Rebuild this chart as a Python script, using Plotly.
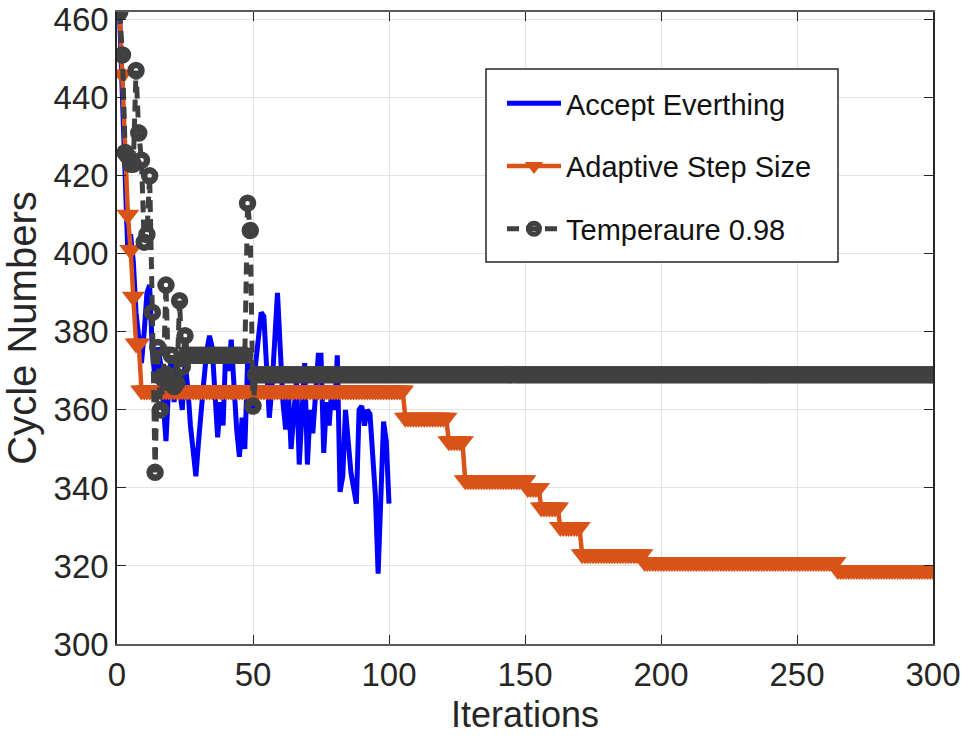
import plotly.graph_objects as go

# Accept Everthing: cycle numbers for iterations 1..100
accept_iter = list(range(1, 101))
accept_cycles = [
    460, 440, 422, 400, 405, 398, 385, 378, 372, 380,
    390, 392, 375, 368, 376, 372, 360, 352, 366, 374,
    362, 370, 365, 360, 372, 366, 356, 350, 343, 352,
    362, 368, 375, 379, 376, 366, 353, 362, 356, 376,
    370, 378, 364, 355, 348, 358, 350, 372, 366, 360,
    372, 380, 385, 384, 372, 358, 366, 380, 390, 376,
    362, 355, 365, 350, 360, 368, 346, 360, 372, 346,
    360, 354, 366, 374, 374, 349, 362, 356, 366, 360,
    374, 339, 343, 360, 352, 344, 340, 336, 360, 361,
    356, 360, 359, 348, 338, 318, 335, 357, 352, 336,
]

# Adaptive Step Size: start values, then plateaus (value, first iteration, last iteration)
adaptive_start = [462, 446, 425, 410, 401, 389, 377, 377]
adaptive_plateaus = [
    (365, 9, 105),
    (358, 106, 121),
    (352, 122, 127),
    (342, 128, 150),
    (340, 151, 155),
    (335, 156, 162),
    (330, 163, 170),
    (323, 171, 193),
    (321, 194, 264),
    (319, 265, 300),
]

# Temperaure 0.98: early values, then plateaus
temp_start = [462, 451, 426, 425, 423, 423, 447, 431, 424, 403,
              405, 420, 385, 344, 376, 360, 368, 392, 367, 374,
              366, 367, 388, 371, 379]
temp_plateau_a = (374, 26, 47)
temp_jump = [413, 406, 361]
temp_plateau_b = (369, 51, 300)

x_ticks = [0, 50, 100, 150, 200, 250, 300]
y_ticks = [300, 320, 340, 360, 380, 400, 420, 440, 460]


def expand(start_vals, plateaus, first_iter=1):
    xs = list(range(first_iter, first_iter + len(start_vals)))
    ys = list(start_vals)
    for val, a, b in plateaus:
        for i in range(a, b + 1):
            xs.append(i)
            ys.append(val)
    return xs, ys


adaptive_x, adaptive_y = expand(adaptive_start, adaptive_plateaus)

temp_x, temp_y = expand(temp_start, [temp_plateau_a])
temp_x += [48, 49, 50]
temp_y += temp_jump
for i in range(temp_plateau_b[1], temp_plateau_b[2] + 1):
    temp_x.append(i)
    temp_y.append(temp_plateau_b[0])

fig = go.Figure()

fig.add_trace(go.Scatter(
    x=accept_iter, y=accept_cycles, mode="lines",
    name="Accept Everthing", legendgroup="a",
    line=dict(color="#0000FF", width=5),
))
fig.add_trace(go.Scatter(
    x=adaptive_x, y=adaptive_y, mode="lines+markers",
    name="Adaptive Step Size", legendgroup="b",
    line=dict(color="#D95319", width=4.5),
    marker=dict(symbol="triangle-down", size=20, color="#D95319",
                line=dict(width=0)),
))
fig.add_trace(go.Scatter(
    x=temp_x, y=temp_y, mode="lines+markers",
    name="Temperaure 0.98", legendgroup="c",
    line=dict(color="#404040", width=5, dash="12px,7px"),
    marker=dict(symbol="circle-open", size=11, color="#404040",
                line=dict(width=6.5, color="#404040")),
))

L, R, T, B = 117, 35, 12, 101
W, H = 968, 745
pw, ph = W - L - R, H - T - B


def px_to_paper(px, py):
    return (px - L) / pw, (H - B - py) / ph


# legend frame
bx0, by0 = px_to_paper(486, 262)
bx1, by1 = px_to_paper(838, 69)
fig.add_shape(type="rect", xref="paper", yref="paper",
              x0=bx0, y0=by0, x1=bx1, y1=by1,
              line=dict(color="#262626", width=1.5), fillcolor="white",
              layer="above")

lx, ly = px_to_paper(502, 78)

tick_font = dict(family="Liberation Sans, Arial", size=33, color="#262626")

fig.update_layout(
    width=W, height=H,
    margin=dict(l=L, r=R, t=T, b=B, autoexpand=False),
    paper_bgcolor="white", plot_bgcolor="white",
    showlegend=True,
    legend=dict(
        x=lx, y=ly, xanchor="left", yanchor="top",
        bgcolor="rgba(0,0,0,0)", borderwidth=0,
        font=dict(family="Liberation Sans, Arial", size=29, color="#111111"),
        tracegroupgap=22, traceorder="grouped", itemwidth=54,
    ),
    xaxis=dict(
        range=[0, 300], tickvals=x_ticks, ticktext=[str(v) for v in x_ticks],
        automargin=False,
        showgrid=True, gridcolor="#e3e3e3", gridwidth=1,
        showline=True, linecolor="#5a5a5a", linewidth=2, mirror="ticks",
        ticks="inside", ticklen=9, tickwidth=1.2, tickcolor="#262626",
        tickfont=tick_font, zeroline=False,
        title=dict(text="Iterations", standoff=10,
                   font=dict(family="Liberation Sans, Arial", size=36, color="#262626")),
    ),
    yaxis=dict(
        range=[300, 462], tickvals=y_ticks, ticktext=[str(v) for v in y_ticks],
        automargin=False,
        showgrid=True, gridcolor="#e3e3e3", gridwidth=1,
        showline=True, linecolor="#262626", linewidth=1.5, mirror="ticks",
        ticks="inside", ticklen=9, tickwidth=1.2, tickcolor="#262626",
        tickfont=tick_font, zeroline=False,
        title=dict(text="Cycle Numbers", standoff=14,
                   font=dict(family="Liberation Sans, Arial", size=40, color="#262626")),
    ),
)

fig.write_html("out.html")
